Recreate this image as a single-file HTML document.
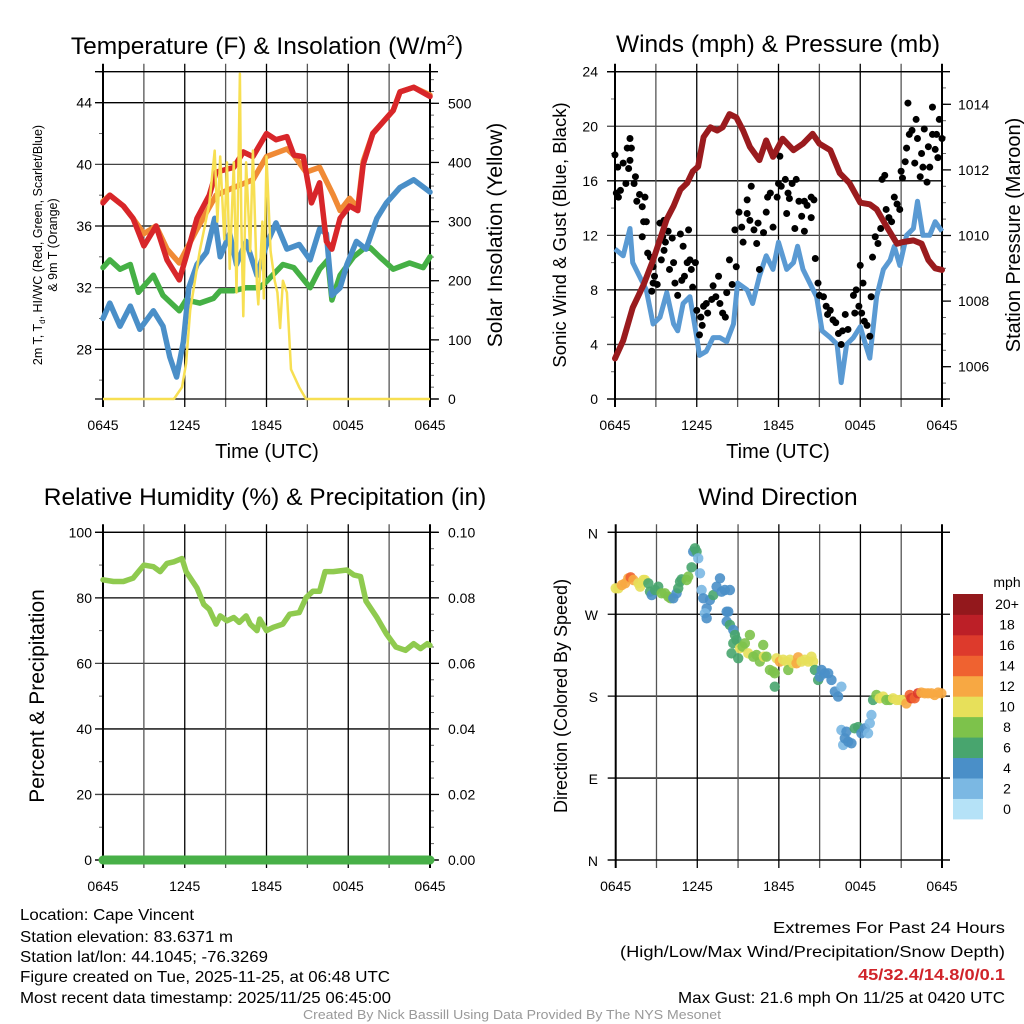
<!DOCTYPE html>
<html><head><meta charset="utf-8"><style>
html,body{margin:0;padding:0;background:#fff}
svg{display:block;font-family:"Liberation Sans",Arial,sans-serif}
.tk{font-size:14px;fill:#000}
.ft{font-family:"Liberation Sans",sans-serif;font-size:16px;fill:#000}
</style></head><body>
<svg id="chart" width="1024" height="1024" viewBox="0 0 1024 1024" xmlns="http://www.w3.org/2000/svg">
<g id="g1"></g>
<g id="g2"></g>
<g id="g3"></g>
<g id="g4"></g>
<text x="267" y="54" text-anchor="middle" font-size="24.5">Temperature (F) &amp; Insolation (W/m<tspan font-size="15" dy="-9">2</tspan><tspan dy="9">)</tspan></text>
<text x="778" y="52" text-anchor="middle" font-size="24.5">Winds (mph) &amp; Pressure (mb)</text>
<text x="265" y="505" text-anchor="middle" font-size="24.5">Relative Humidity (%) &amp; Precipitation (in)</text>
<text x="778" y="505" text-anchor="middle" font-size="24.5">Wind Direction</text>
<text x="267" y="458" text-anchor="middle" font-size="20">Time (UTC)</text>
<text x="778" y="458" text-anchor="middle" font-size="20">Time (UTC)</text>
<text transform="translate(42,245) rotate(-90)" text-anchor="middle" font-size="12.5">2m T, T<tspan font-size="8" dy="3">d</tspan><tspan dy="-3">, HI/WC (Red, Green, Scarlet/Blue)</tspan></text>
<text transform="translate(57,245) rotate(-90)" text-anchor="middle" font-size="12.5">&amp; 9m T (Orange)</text>
<text transform="translate(502,235) rotate(-90)" text-anchor="middle" font-size="21">Solar Insolation (Yellow)</text>
<text transform="translate(566,235) rotate(-90)" text-anchor="middle" font-size="18.5">Sonic Wind &amp; Gust (Blue, Black)</text>
<text transform="translate(1020,235) rotate(-90)" text-anchor="middle" font-size="20">Station Pressure (Maroon)</text>
<text transform="translate(44,696) rotate(-90)" text-anchor="middle" font-size="21">Percent &amp; Precipitation</text>
<text transform="translate(567,696) rotate(-90)" text-anchor="middle" font-size="18">Direction (Colored By Speed)</text>
<g>
<text class="ft" x="20" y="920" textLength="174" lengthAdjust="spacingAndGlyphs">Location: Cape Vincent</text>
<text class="ft" x="20" y="942" textLength="213" lengthAdjust="spacingAndGlyphs">Station elevation: 83.6371 m</text>
<text class="ft" x="20" y="962" textLength="248" lengthAdjust="spacingAndGlyphs">Station lat/lon: 44.1045; -76.3269</text>
<text class="ft" x="20" y="982" textLength="370" lengthAdjust="spacingAndGlyphs">Figure created on Tue, 2025-11-25, at 06:48 UTC</text>
<text class="ft" x="20" y="1003" textLength="371" lengthAdjust="spacingAndGlyphs">Most recent data timestamp: 2025/11/25 06:45:00</text>
</g>
<g>
<text class="ft" x="773" y="933" textLength="232" lengthAdjust="spacingAndGlyphs">Extremes For Past 24 Hours</text>
<text class="ft" x="620" y="957" textLength="385" lengthAdjust="spacingAndGlyphs">(High/Low/Max Wind/Precipitation/Snow Depth)</text>
<text class="ft" x="858" y="980" textLength="147" lengthAdjust="spacingAndGlyphs" style="fill:#d0242a;font-weight:bold">45/32.4/14.8/0/0.1</text>
<text class="ft" x="678" y="1003" textLength="327" lengthAdjust="spacingAndGlyphs">Max Gust: 21.6 mph On 11/25 at 0420 UTC</text>
</g>
<text x="512" y="1019" text-anchor="middle" font-size="12.5" fill="#999" textLength="418" lengthAdjust="spacingAndGlyphs">Created By Nick Bassill Using Data Provided By The NYS Mesonet</text>
</svg>
<script>
// ---------- data ----------
const timeTickLabels = ["0645","1245","1845","0045","0645"];
const tempTicks = [28,32,36,40,44];
const solarTicks = [0,100,200,300,400,500];
const windTicks = [0,4,8,12,16,20,24];
const pressTicks = [1006,1008,1010,1012,1014];
const rhTicks = [0,20,40,60,80,100];
const precipTickLabels = ["0.00","0.02","0.04","0.06","0.08","0.10"];
const dirTicks = [0,90,180,270,360];
const dirTickLabels = ["N","E","S","W","N"];
const speedBinLabels = ["0","2","4","6","8","10","12","14","16","18","20+"];
const speedBinColors = ["#b5e2f7","#7bb8e3","#4a8fc8","#48a56e","#7dc24b","#e7e05a","#f7a843","#ef6230","#dd3a2c","#bc1f27","#93181c"];

const redT = [0,0.5,1.5,2.2,3,3.9,4.7,5.6,6.1,6.9,7.8,8.3,9.6,10.3,11,12,12.7,13.5,14,14.7,15.3,15.9,16.4,16.8,17.4,18.1,18.7,19.1,19.8,20.6,21.3,21.8,22.8,24];
const redV = [37.5,38,37.3,36.5,34.7,36,33.8,32.5,34,36.5,38,39.5,39.8,40.8,40.5,42,41.6,41.8,40.6,40.5,37.5,38.8,35,34.5,36.5,37.3,37,40,42,42.8,43.5,44.7,45,44.4];
const orangeT = [0,0.5,1.5,2.2,3,3.9,4.7,5.6,6.9,8.3,9.6,11,12,13.5,14,14.9,15.9,16.9,17.4,18.1,18.7,19.1,19.8,20.6,21.3,21.8,22.8,24];
const orangeV = [37.6,38,37.3,36.5,35.5,36,34.5,33.6,35.8,38,38.5,39,40.5,41,40.6,39.5,39.8,38,37,37.8,37.2,40.2,42,42.8,43.5,44.7,45,44.5];
const blueT = [0,0.5,1.25,2,2.7,3.7,4.4,4.9,5.4,5.9,6.3,6.9,7.6,8.2,8.6,9.3,9.8,10.5,11.3,12,12.7,13.5,14.4,15.2,15.9,16.4,16.8,17.4,17.9,18.6,19.3,20.1,20.8,21.8,22.8,24];
const blueV = [30,31,29.5,30.8,29.3,30.5,29.5,27.5,26.2,28.5,32,33.5,34.3,36.5,34,35.5,33.5,35,32.8,34.8,36.2,34.5,34.8,33.8,35.8,35.5,31.5,32,33.5,35,34.5,36.5,37.5,38.5,39,38.2];
const greenT = [0,0.5,1.25,2,2.6,3.7,4.4,5.6,6.1,7.1,8.1,8.6,9.6,10.5,11.5,12,13.2,14,15.2,15.9,16.5,16.8,17.4,18.4,19.1,19.6,20.3,21.3,22.5,23.5,24];
const greenV = [33.3,33.8,33.2,33.5,31.7,32.8,31.5,30.5,31.2,31,31.3,31.8,31.8,32,32,32.4,33.5,33.3,32,33.2,33.8,31.2,32.8,34,34.5,34.6,34,33.2,33.6,33.3,34];
const solarT = [0,5.2,5.8,6.1,6.4,7.1,7.8,8.2,8.4,8.6,8.9,9.1,9.3,9.6,9.8,10.05,10.15,10.3,10.5,10.8,11,11.3,11.4,11.7,11.8,12,12.3,12.6,12.8,13,13.2,13.5,13.8,14.4,14.9,24];
const solarV = [0,0,20,60,150,250,330,420,300,410,270,400,220,400,180,550,300,140,400,250,420,190,160,300,170,410,250,200,180,120,200,180,50,20,0,0];

const windT = [0,0.6,1.1,1.3,1.8,2.3,2.8,3.3,3.8,4.3,4.6,5.0,5.5,6.0,6.2,6.7,7.2,7.7,8.2,8.7,9.0,9.7,10.1,10.6,11.1,11.6,12.0,12.6,13.1,13.4,13.8,14.3,14.8,15.2,15.8,16.3,16.6,17.0,17.5,18.0,18.3,18.7,19.2,19.7,20.2,20.5,20.9,21.4,21.9,22.2,22.6,23.1,23.5,24];
const windV = [11,10.5,12.5,10,9,8,5.5,6,7.8,5.5,5,7,7.5,4.5,3.2,3.5,4.5,4.5,4.2,5.5,8.5,8,7,9,10.5,9.5,11.5,9.5,10,11.2,9.5,8.5,7.5,5,4.5,4,1.2,4,4.5,5.3,4.3,3,7.5,9.5,10.2,11.2,9.8,12,12.5,14.5,12,12,13,12.3];
const gustT = [0,0.2,0.1,0.4,0.25,0.6,0.8,0.9,1.1,1.2,1.1,1.0,1.5,1.4,1.6,1.8,2.0,2.2,2.1,2.3,2.0,2.4,2.6,2.8,2.9,2.8,3.1,2.7,3.3,3.6,3.5,3.7,3.6,3.9,4.2,3.4,4.0,4.3,4.4,4.6,4.8,5.0,4.9,5.1,5.3,5.4,5.5,5.6,5.7,5.9,6.0,6.3,6.4,6.2,6.5,6.7,6.8,7.1,7.2,7.4,7.6,7.7,7.9,8.1,8.2,8.4,8.6,8.8,8.9,9.1,9.3,9.4,9.7,9.7,9.9,10.0,10.2,10.4,10.6,10.5,10.9,11.1,11.2,11.4,11.6,11.9,12.0,12.1,12.2,12.5,12.6,12.7,12.8,13.0,13.2,13.3,13.5,13.7,13.9,13.9,14.1,14.4,14.4,14.6,14.7,14.9,15.0,15.3,15.5,15.6,15.8,16.0,16.2,16.4,16.6,16.7,16.9,17.1,17.5,17.6,17.7,18.0,17.9,18.1,18.2,18.3,18.5,18.7,18.8,18.9,19.1,19.3,19.5,19.6,19.8,19.9,20.1,20.3,20.5,20.7,20.9,21.0,21.1,21.3,21.4,21.5,21.6,21.8,22.0,22.1,22.2,22.4,22.5,22.6,22.7,22.9,23.0,23.1,23.3,23.3,23.5,23.6,23.7,23.8,24.0];
const gustV = [17.9,17,15.1,15.3,14.8,17.3,15.8,18.4,19.1,18.4,17.5,16.9,16.3,15.8,14.5,15,14.1,14.8,13,13,11.9,10.7,10.4,9.7,9,8.5,8.4,7.9,12.9,13.1,11.9,11.5,10.9,12.3,11.8,10.2,9.5,10,8.5,7.6,12.1,11.2,8.7,9,10,12.4,10.2,9.5,8.2,10,6.5,6,5.4,4.7,6.8,7,6.3,7.3,8.3,7.5,9,7,6.3,6,7.8,10.2,8.4,12.4,9.7,13.7,12.6,11.5,14.6,13.6,13.1,15.6,12.4,11.4,9.5,12.9,12.2,13.7,14.8,15.1,12.6,14.8,15.8,17.8,15.6,16.1,13.6,15.1,14.7,15.8,12.5,16.1,14.5,13.4,12.3,14.5,14.2,14.8,13.3,14.6,10.3,8.5,7.6,7.5,6.8,6.2,6.5,5.8,5.6,4.8,4,5,6.2,5.1,7.6,6.3,8,9.8,6.8,6.3,8.5,5.7,5.4,4.6,7.5,10.4,11.9,11.4,12.5,16.1,16.4,13.9,13.3,13,14.8,14.3,13.9,16.7,16.2,17.4,18.4,21.7,19.4,19.7,17.3,20.5,19.1,16.3,18,17,19.8,15.9,18.5,17,21.4,19.4,18.3,19.4,17.7,20.5,19.1];
const pressT = [0,0.6,1.3,2.1,2.8,3.8,4.3,4.8,5.3,5.7,6.1,6.5,7.0,7.5,7.9,8.4,8.9,9.4,9.9,10.6,11.1,11.6,12.3,13.1,13.8,14.5,15.0,15.8,16.5,17.2,18.0,18.7,19.2,19.9,20.7,21.1,21.9,22.5,23.0,23.5,24];
const pressV = [1006.25,1006.8,1007.8,1008.5,1009.25,1010.5,1010.9,1011.4,1011.6,1011.95,1012.1,1013.0,1013.3,1013.2,1013.3,1013.7,1013.6,1013.2,1012.7,1012.3,1012.9,1012.4,1012.95,1012.6,1012.8,1013.1,1012.8,1012.6,1011.9,1011.6,1011.0,1010.95,1010.8,1010.3,1009.75,1009.8,1009.85,1009.75,1009.25,1009.0,1008.95];

const rhT = [0,0.76,1.5,2.2,2.7,3.0,3.7,4.2,4.7,5.2,5.8,6.1,6.9,7.4,7.8,8.3,8.6,9.1,9.6,10.0,10.5,10.8,11.3,11.5,12.0,12.5,13.2,13.7,14.4,14.9,15.4,15.9,16.3,16.9,17.9,18.4,18.9,19.3,20.1,20.8,21.5,22.2,22.8,23.3,23.8,24];
const rhV = [85.5,85,85,86,88.5,90,89.5,88,90.5,91,92,88,83,78,76.5,72,74.5,73,74,72.5,74.5,72,70,73.5,70,71,72,75,75.5,80,82,82,88,88,88.5,87,86.5,79,74,69,65,64,66,64.5,66,65.5];
const precipT = [0,24];
const precipV = [0,0];

const dirT = [0,0.2,0.45,0.7,0.93,1.1,1.3,1.67,1.8,2.03,2.15,2.4,2.52,2.65,2.9,3.13,3.38,3.62,3.87,4.04,4.24,4.48,4.6,4.73,4.85,5.22,5.34,5.58,5.7,5.83,5.95,6.07,6.2,6.32,6.44,6.69,6.56,6.69,6.93,7.18,7.42,7.67,7.79,8.03,8.16,8.28,8.4,8.16,8.4,8.65,8.77,8.89,8.65,8.52,9.01,9.14,9.33,9.5,9.75,9.87,10.12,10.36,10.6,10.85,10.9,11.09,11.34,11.58,11.7,11.7,11.83,12.07,12.32,12.56,12.69,12.81,13.05,13.3,13.42,13.67,13.91,14.16,14.4,14.52,14.65,14.89,15.01,15.14,15.38,15.63,15.87,16.12,16.36,16.6,16.6,16.73,16.85,16.97,17.1,17.34,17.58,17.83,18.07,18.32,18.56,18.69,18.81,18.93,19.18,19.42,19.67,19.91,20.16,20.4,20.65,20.89,21.14,21.38,21.63,21.75,21.99,22.24,22.48,22.73,22.97,23.22,23.46,23.71,23.95];
const dirV = [298.5,298.5,302,304,309.5,310.5,307.6,304,300.3,307.6,307.6,304,294.8,291,296.6,300.3,293,293,289.3,287.5,287.5,293,298.5,305.8,308.4,307.6,311.3,321.5,338.8,342.4,338.8,331.4,315,296.6,287.5,276.5,271,265.5,285.7,291,300.3,309.5,294.8,296.6,272.8,272.8,296.6,262,258.2,252.7,247.2,241.7,238,227,221.6,232.6,234.4,238,227,247.2,223.4,225.2,218,236.2,223.4,223.4,208.8,207,205.1,190.4,221.6,218,220,218,208.8,220,216.1,216.1,222.7,218,220,218,223.4,218,208.8,197.8,201.4,208.8,205.1,205.1,197.8,185,179.5,190.4,142.8,126.4,133.7,141,130,128.2,144.7,146,139.2,144.7,139.2,150.2,159.3,175.8,181.3,177.6,179.5,175.8,175.8,177.6,175.8,175.8,175.8,172,181.3,177.6,177.6,183.1,183.9,183.1,183.1,183.1,181.3,183.9,183.1,183.1];
const dirSpd = [10,10,12,12,12,14,12,10,10,10,10,6,6,4,6,6,8,8,8,8,4,4,6,6,6,8,8,6,4,6,6,2,2,2,4,4,2,4,4,6,4,4,4,4,4,4,4,4,6,4,6,6,6,6,6,10,8,8,10,8,8,8,8,8,10,8,8,8,8,6,10,12,10,10,8,10,10,12,12,10,10,10,10,10,6,6,4,4,4,4,4,4,4,2,2,2,4,4,4,4,6,6,4,4,2,2,2,6,8,10,10,8,8,10,10,10,10,12,14,16,14,16,12,12,12,12,12,12,12];

// ---------- helpers ----------
const NS="http://www.w3.org/2000/svg";
function mk(parent,tag,attrs){const e=document.createElementNS(NS,tag);for(const k in attrs)e.setAttribute(k,attrs[k]);parent.appendChild(e);return e;}
function lin(d0,d1,r0,r1){return v=>r0+(v-d0)*(r1-r0)/(d1-d0);}
function pathD(ts,vs,xs,ys){return ts.map((t,i)=>(i?"L":"M")+xs(t).toFixed(1)+","+ys(vs[i]).toFixed(1)).join("");}

function frame(g,x0,x1,y0,y1){
  for(let h=0;h<=24;h+=3){
    const x=x0+(x1-x0)*h/24;
    const l=mk(g,"line",{x1:x,x2:x,y1:y0-8,y2:y1+8,stroke:(h%6===0)?"#000":"#555","stroke-width":(h===0||h===24)?2:1.3});
    
    
  }
  mk(g,"line",{x1:x0-8,x2:x1+8,y1:y0,y2:y0,stroke:"#000","stroke-width":1.3});
  mk(g,"line",{x1:x0-8,x2:x1+8,y1:y1,y2:y1,stroke:"#000","stroke-width":1.3});
  timeTickLabels.forEach((s,i)=>{
    const t=mk(g,"text",{x:x0+(x1-x0)*i/4,y:y1+31,"text-anchor":"middle",class:"tk"});
    
    
    t.textContent=s;
  });
}
function hgrid(g,ticks,ys,x0,x1,labels,lx,anchor,name){
  ticks.forEach((v,i)=>{
    const y=ys(v);
    const l=mk(g,"line",{x1:x0-8,x2:x1,y1:y,y2:y,stroke:(i%2)?"#444":"#000","stroke-width":1.3});
    
    
    const t=mk(g,"text",{x:lx,y:y+5,"text-anchor":anchor,class:"tk"});
    
    
    t.textContent=labels?labels[i]:v;
  });
}
function rticks(g,ticks,ys,x1,labels,lx,name,minorStep,lo,hi){
  for(let v=lo;v<=hi+1e-9;v+=minorStep){const y=ys(v);mk(g,"line",{x1:x1,x2:x1+4,y1:y,y2:y,stroke:"#666","stroke-width":1});}
  ticks.forEach((v,i)=>{
    const y=ys(v);
    mk(g,"line",{x1:x1,x2:x1+9,y1:y,y2:y,stroke:"#000","stroke-width":1.3});
    const t=mk(g,"text",{x:lx,y:y+5,"text-anchor":"start",class:"tk"});
    
    
    t.textContent=labels?labels[i]:v;
  });
  mk(g,"line",{x1:x1,x2:x1,y1:ys(lo),y2:ys(hi),stroke:"#000","stroke-width":1.5});
}
function minorL(g,x0,vals,ys){vals.forEach(v=>mk(g,"line",{x1:x0-4,x2:x0,y1:ys(v),y2:ys(v),stroke:"#666","stroke-width":1}));}

// ---------- panel 1 ----------
(function(){
  const g=document.getElementById("g1");
  const x0=103,x1=430,yt=71.7,yb=399;
  const xs=lin(0,24,x0,x1), yT=lin(44,28,102.7,349.3), yS=lin(0,500,399,103.3);
  hgrid(g,tempTicks,yT,x0,x1,null,92,"end","temp");
  minorL(g,x0,[26,30,34,38,42,46],yT);
  rticks(g,solarTicks,yS,x1,null,448,"solar",20,0,540);
  frame(g,x0,x1,yt,yb);
  const series=[["orange-line","#f08a35",orangeT,orangeV],["green-line","#45b045",greenT,greenV],["blue-line","#4a8fc8",blueT,blueV],["red-line","#d8262a",redT,redV]];
  series.forEach(s=>{
    const p=mk(g,"path",{d:pathD(s[2],s[3],xs,yT),fill:"none",stroke:s[1],"stroke-width":5.5,"stroke-linejoin":"round","stroke-linecap":"round"});
    
    
  });
  const p=mk(g,"path",{d:pathD(solarT,solarV,xs,yS),fill:"none",stroke:"#f7df52","stroke-width":2.5,"stroke-linejoin":"round"});
  
  
})();

// ---------- panel 2 ----------
(function(){
  const g=document.getElementById("g2");
  const x0=615,x1=942,yt=71.7,yb=399;
  const xs=lin(0,24,x0,x1), yW=lin(0,24,399,71.7), yP=lin(1006,1014,366.7,104.3);
  hgrid(g,windTicks,yW,x0,x1,null,598,"end","wind");
  minorL(g,x0,[2,6,10,14,18,22],yW);
  rticks(g,pressTicks,yP,x1,null,958,"pressure",0.5,1005,1015);
  frame(g,x0,x1,yt,yb);
  const w=mk(g,"path",{d:pathD(windT,windV,xs,yW),fill:"none",stroke:"#5a9ad3","stroke-width":5,"stroke-linejoin":"round"});
  
  
  gustT.forEach((t,i)=>{
    const c=mk(g,"circle",{cx:xs(t),cy:yW(gustV[i]),r:3.5,fill:"#000"});
    
    
  });
  const p=mk(g,"path",{d:pathD(pressT,pressV,xs,yP),fill:"none",stroke:"#9a1b1e","stroke-width":6,"stroke-linejoin":"round","stroke-linecap":"round"});
  
  
})();

// ---------- panel 3 ----------
(function(){
  const g=document.getElementById("g3");
  const x0=103,x1=430,yt=532.3,yb=860;
  const xs=lin(0,24,x0,x1), yR=lin(0,100,860,532.3);
  hgrid(g,rhTicks,yR,x0,x1,null,92,"end","humidity");
  minorL(g,x0,[10,30,50,70,90],yR);
  rticks(g,rhTicks,yR,x1,precipTickLabels,448,"precip",5,0,100);
  frame(g,x0,x1,yt,yb);
  const r=mk(g,"path",{d:pathD(rhT,rhV,xs,yR),fill:"none",stroke:"#8fca4f","stroke-width":5.5,"stroke-linejoin":"round","stroke-linecap":"round"});
  
  
  const pr=mk(g,"path",{d:pathD(precipT,precipV,xs,v=>yR(v*1000)),fill:"none",stroke:"#48b048","stroke-width":9,"stroke-linecap":"round"});
  
  
})();

// ---------- panel 4 ----------
(function(){
  const g=document.getElementById("g4");
  const x0=615.7,x1=942,yt=532.3,yb=860;
  const xs=lin(0,24,x0,x1), yD=lin(0,360,860,532.3);
  dirTicks.forEach((v,i)=>{
    const y=yD(v);
    mk(g,"line",{x1:x0-8,x2:x1+8,y1:y,y2:y,stroke:"#000","stroke-width":1.3});
    const t=mk(g,"text",{x:598,y:y+6,"text-anchor":"end",class:"tk"});
    
    
    t.textContent=dirTickLabels[i];
  });
  frame(g,x0,x1,yt,yb);
  dirT.forEach((t,i)=>{
    const k=Math.min(10,Math.floor(dirSpd[i]/2));
    const c=mk(g,"circle",{cx:xs(t),cy:yD(dirV[i]),r:5.2,fill:speedBinColors[k],"fill-opacity":0.9});
    
    
  });
  const cb=mk(g,"g",{});
  
  
  const cy0=819,ch=(819-594)/speedBinColors.length;
  speedBinColors.forEach((col,k)=>{
    const y=cy0-(k+1)*ch;
    const r=mk(cb,"rect",{x:953,y:y,width:30,height:ch+0.4,fill:col});
    
    
    const t=mk(cb,"text",{x:1007,y:y+ch/2+5,"text-anchor":"middle",class:"tk"});
    
    
    t.textContent=speedBinLabels[k];
  });
  const u=mk(cb,"text",{x:1007,y:587,"text-anchor":"middle",class:"tk"});
  
  
  u.textContent="mph";
})();
</script>
</body></html>
